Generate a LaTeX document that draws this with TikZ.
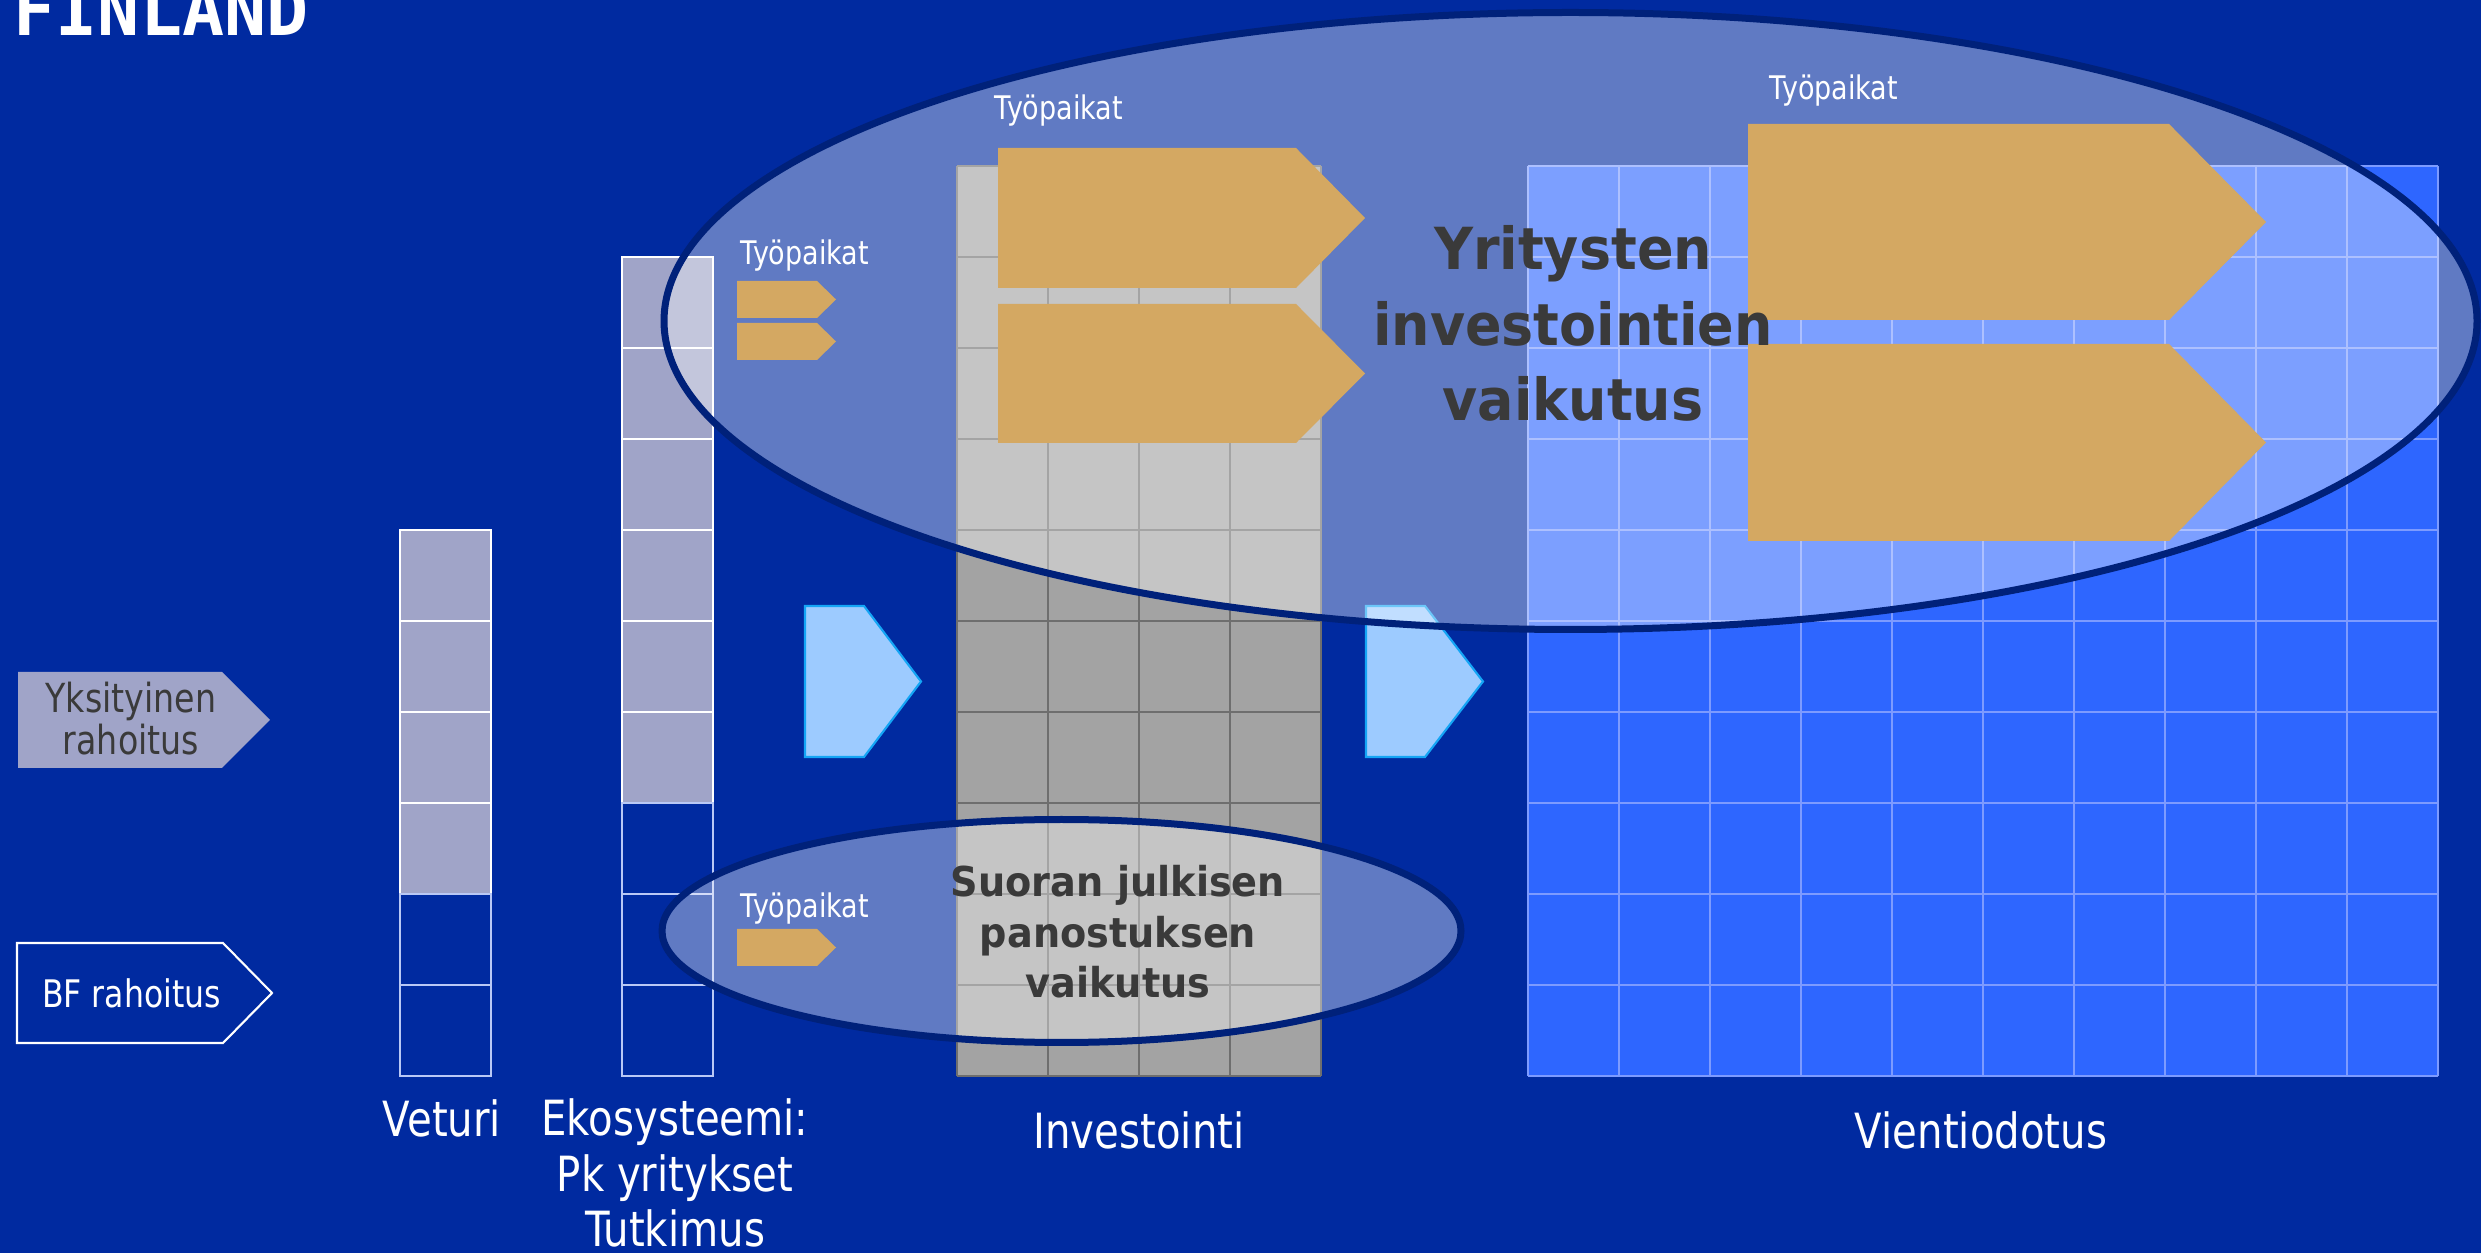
\documentclass[tikz,border=0pt]{standalone}
\usepackage{fontspec}
\setmainfont{DejaVu Sans}[FakeStretch=0.83]
\newfontfamily\headfont{DejaVu Sans}[FakeStretch=0.93]
\newfontfamily\logofont{DejaVu Sans Mono}
\usetikzlibrary{positioning}
\usetikzlibrary{calc}

\definecolor{bfblue}{RGB}{0,42,160}
\definecolor{lavender}{RGB}{160,164,200}
\definecolor{cellline}{RGB}{185,200,245}
\definecolor{invfill}{RGB}{163,163,163}
\definecolor{invline}{RGB}{110,110,110}
\definecolor{viefill}{RGB}{46,102,255}
\definecolor{vieline}{RGB}{125,155,255}
\definecolor{flowfill}{RGB}{157,203,255}
\definecolor{flowline}{RGB}{20,165,245}
\definecolor{ring}{RGB}{0,33,122}
\definecolor{jobs}{RGB}{212,168,98}
\definecolor{darktext}{RGB}{58,58,58}

\begin{document}
\begin{tikzpicture}[x=0.1mm, y=-0.1mm,
    Box/.style={fill=lavender, draw=white, line width=0.6pt},
    Empty/.style={draw=cellline, line width=0.6pt},
    Jobs/.style={fill=jobs},
    Flow/.style={fill=flowfill, draw=flowline, line width=0.6pt},
    Effect/.style={fill=white, fill opacity=0.375, draw=ring, line width=0.7mm},
    Lbl/.style={text=white, inner sep=0pt, anchor=base, align=center, font=\fontsize{13.8}{15.65}\selectfont},
    Tag/.style={text=white, inner sep=0pt, anchor=base west, font=\fontsize{9.25}{11}\selectfont},
    Big/.style={text=darktext, inner sep=0pt, anchor=base, align=center}]

    \useasboundingbox (0,0) rectangle (2481,1253);
    \fill[bfblue] (0,0) rectangle (2481,1253);

    % investointi and vientiodotus grids
    \fill[invfill] (957,166) rectangle (1321,1076);
    \foreach \i in {0,...,4}
        \draw[invline, line width=0.6pt] ({957+91*\i},166) -- ({957+91*\i},1076);
    \foreach \j in {0,...,10}
        \draw[invline, line width=0.6pt] (957,{166+91*\j}) -- (1321,{166+91*\j});

    \fill[viefill] (1528,166) rectangle (2438,1076);
    \foreach \i in {0,...,10}
        \draw[vieline, line width=0.8pt] ({1528+91*\i},166) -- ({1528+91*\i},1076);
    \foreach \j in {0,...,10}
        \draw[vieline, line width=0.8pt] (1528,{166+91*\j}) -- (2438,{166+91*\j});

    % veturi and ekosysteemi columns
    \foreach \j in {0,...,3}
        \draw[Box] (400,{530+91*\j}) rectangle (491,{621+91*\j});
    \foreach \j in {4,5}
        \draw[Empty] (400,{530+91*\j}) rectangle (491,{621+91*\j});
    \foreach \j in {0,...,5}
        \draw[Box] (622,{257+91*\j}) rectangle (713,{348+91*\j});
    \foreach \j in {6,7,8}
        \draw[Empty] (622,{257+91*\j}) rectangle (713,{348+91*\j});

    % funding arrows
    \fill[lavender] (18,672) -- (222,672) -- (270,720) -- (222,768) -- (18,768) -- cycle;
    \draw[white, line width=0.6pt] (17,943) -- (223,943) -- (272,993) -- (223,1043) -- (17,1043) -- cycle;

    \draw[Flow] (805,606) -- (864,606) -- (921,681.5) -- (864,757) -- (805,757) -- cycle;
    \draw[Flow] (1366,606) -- (1425,606) -- (1483,681.5) -- (1425,757) -- (1366,757) -- cycle;

    % effect areas
    \path[Effect] (1570.5,321) ellipse [x radius=90.65mm, y radius=30.85mm];
    \path[Effect] (1061.5,931) ellipse [x radius=39.95mm, y radius=11.15mm];

    % jobs
    \foreach \xa/\xb/\xc/\ya/\yb in {737/817/836/281/318, 737/817/836/323/360,
                                     737/817/836/929/966,
                                     998/1296/1365/148/288, 998/1296/1365/304/443,
                                     1748/2169/2266/124/320, 1748/2169/2266/344/541}
        \fill[Jobs] (\xa,\ya) -- (\xb,\ya) -- (\xc,{(\ya+\yb)/2}) -- (\xb,\yb) -- (\xa,\yb) -- cycle;

    \node[Tag] (T1) at (740,265) {Työpaikat};
    \node[Tag] (T2) at (994,120) {Työpaikat};
    \node[Tag] (T3) at (1769,100) {Työpaikat};
    \node[Tag] (T4) at (740,918) {Työpaikat};

    % multi-line nodes sit on the baseline of their last line
    \node[Big, font=\headfont\bfseries\fontsize{16.5}{21.6}\selectfont] (H1) at (1573,421)
        {Yritysten\\investointien\\vaikutus};
    \node[Big, font=\headfont\bfseries\fontsize{11.7}{14.4}\selectfont] (H2) at (1118,998)
        {Suoran julkisen\\panostuksen\\vaikutus};

    \node[Big, font=\fontsize{11.4}{11.95}\selectfont] (R1) at (131,755) {Yksityinen\\rahoitus};
    \node[Lbl, font=\fontsize{10.8}{12}\selectfont] (R2) at (131.5,1007.7) {BF rahoitus};

    \node[Lbl] (C1) at (442,1136) {Veturi};
    \node[Lbl] (C2) at (675,1246) {Ekosysteemi:\\Pk yritykset\\Tutkimus};
    \node[Lbl] (C3) at (1139,1148) {Investointi};
    \node[Lbl] (C4) at (1981,1148) {Vientiodotus};

    \node[text=white, inner sep=0pt, anchor=base west,
          font=\logofont\bfseries\fontsize{19.9}{22}\selectfont] (F0) at (13,36) {FINLAND};
\end{tikzpicture}
\end{document}
